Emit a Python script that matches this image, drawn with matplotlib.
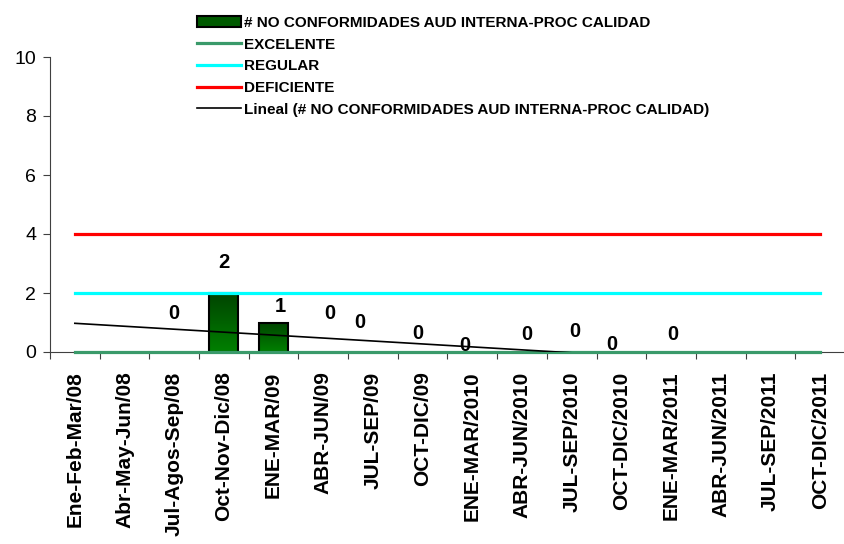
import numpy as np
import matplotlib.pyplot as plt
from matplotlib.patches import Rectangle
from matplotlib.colors import LinearSegmentedColormap

plt.rcParams['font.family'] = ['Liberation Sans', 'DejaVu Sans']

# categories / series
periodos = ['Ene-Feb-Mar/08', 'Abr-May-Jun/08', 'Jul-Agos-Sep/08', 'Oct-Nov-Dic/08',
            'ENE-MAR/09', 'ABR-JUN/09', 'JUL-SEP/09', 'OCT-DIC/09',
            'ENE-MAR/2010', 'ABR-JUN/2010', 'JUL-SEP/2010', 'OCT-DIC/2010',
            'ENE-MAR/2011', 'ABR-JUN/2011', 'JUL-SEP/2011', 'OCT-DIC/2011']
nc = np.array([np.nan, np.nan, 0, 2, 1, 0, 0, 0, 0, 0, 0, 0, 0, np.nan, np.nan, np.nan])
excelente = [0, 0, 0, 0, 0, 0, 0, 0, 0, 0, 0, 0, 0, 0, 0, 0]
regular = [2, 2, 2, 2, 2, 2, 2, 2, 2, 2, 2, 2, 2, 2, 2, 2]
deficiente = [4, 4, 4, 4, 4, 4, 4, 4, 4, 4, 4, 4, 4, 4, 4, 4]

# where excel put the data labels (x shift in categories, y in data units)
lbl_dx = [0, 0, 0, 0, 0.13, 0.13, -0.26, -0.1, -0.15, 0.1, 0.06, -0.2, 0.04, 0, 0, 0]
lbl_y = [0, 0, 1.32, 3.05, 1.53, 1.32, 1.0, 0.64, 0.22, 0.6, 0.68, 0.24, 0.61, 0, 0, 0]

fig = plt.figure(figsize=(8.45, 5.44), dpi=100)
ax = fig.add_axes([50/845, 192/544, 795/845, 295/544])

x = np.arange(len(periodos))
ok = ~np.isnan(nc)

# bars with vertical gradient
bw = 0.58
grad = np.linspace(0, 1, 100).reshape(-1, 1)
cmap = LinearSegmentedColormap.from_list('g', ['#008000', '#004400'])
for xi, v in zip(x[ok], nc[ok]):
    if v <= 0:
        continue
    r = Rectangle((xi - bw/2, 0), bw, v, facecolor='none', edgecolor='black', lw=1.5, zorder=3)
    ax.add_patch(r)
    im = ax.imshow(grad, extent=(xi - bw/2, xi + bw/2, 0, v), origin='lower', cmap=cmap,
                   aspect='auto', zorder=2)
    im.set_clip_path(r)
bar_h = Rectangle((0, 0), 1, 1, facecolor='#005a00', edgecolor='black', lw=1.5)

l1, = ax.plot(x, excelente, color='#3a9a6a', lw=2.3, zorder=4, clip_on=False)
l2, = ax.plot(x, regular, color='#00ffff', lw=2.3, zorder=4)
l3, = ax.plot(x, deficiente, color='#ff0000', lw=2.3, zorder=4)

# linear trend over the filled points
m, b = np.polyfit(x[ok], nc[ok], 1)
l4, = ax.plot(x, m * x + b, color='black', lw=1.2, zorder=5)

for i in x[ok]:
    ax.text(i + lbl_dx[i], lbl_y[i], '%d' % nc[i], ha='center', va='center',
            fontsize=14.5, fontweight='bold', zorder=6)

ax.set_xlim(-0.5, len(periodos) - 0.5)
ax.set_ylim(0, 10)
ax.set_yticks([0, 2, 4, 6, 8, 10])
ax.tick_params(axis='y', labelsize=14, length=5, pad=5, color='#404040')
ax.set_xticks(np.arange(-0.5, len(periodos), 1), minor=False)
ax.set_xticklabels([])
ax.set_xticks(x, minor=True)
ax.set_xticklabels(periodos, minor=True, rotation=90, fontsize=15, fontweight='bold')
ax.tick_params(axis='x', which='major', length=5, color='#404040')
ax.tick_params(axis='x', which='minor', length=0, pad=14)
for s in ['top', 'right']:
    ax.spines[s].set_visible(False)
ax.spines['left'].set_color('#404040')
ax.spines['bottom'].set_color('#404040')

fig.legend([bar_h, l1, l2, l3, l4],
           ['# NO CONFORMIDADES AUD INTERNA-PROC CALIDAD', 'EXCELENTE', 'REGULAR', 'DEFICIENTE',
            'Lineal (# NO CONFORMIDADES AUD INTERNA-PROC CALIDAD)'],
           loc='upper left', bbox_to_anchor=(197/845, 1 - 16/544), frameon=False,
           prop={'size': 11, 'weight': 'bold'}, handlelength=2.9, handletextpad=0.15,
           labelspacing=0.5, borderpad=0, borderaxespad=0)

fig.savefig('out.png', dpi=100)
